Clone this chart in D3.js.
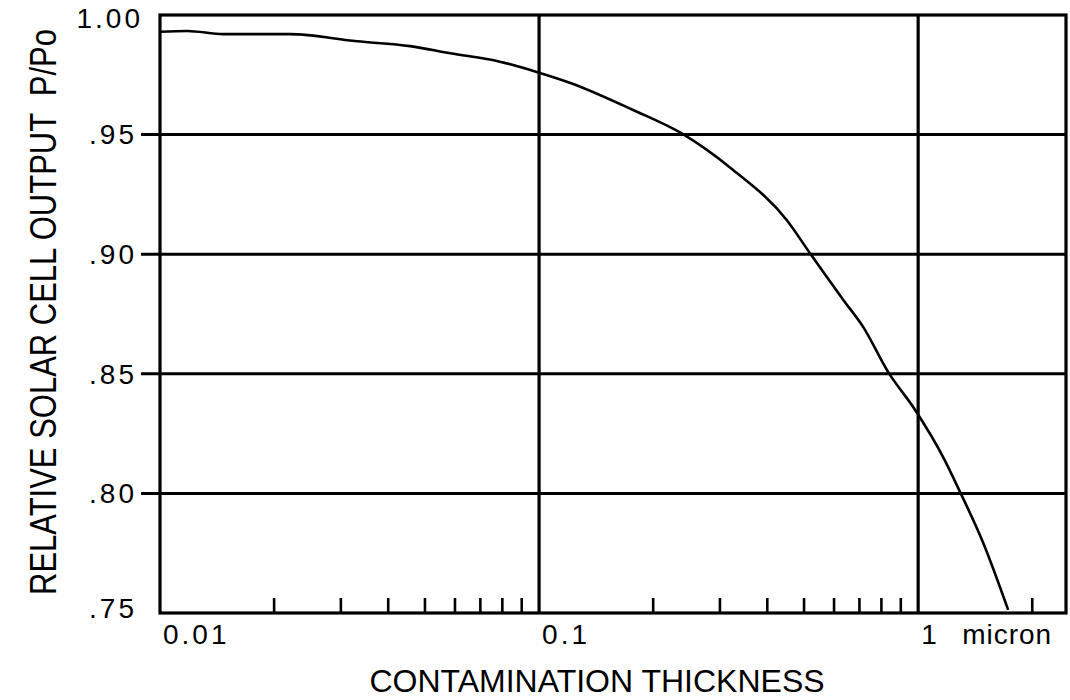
<!DOCTYPE html>
<html>
<head>
<meta charset="utf-8">
<script src="https://cdn.jsdelivr.net/npm/d3@7"></script>
<style>
  body { margin: 0; background: #fff; }
  text { font-family: "Liberation Sans", Arial, Helvetica, sans-serif; fill: #000; }
</style>
</head>
<body>
<div id="chart"></div>
<script>
// Curve: contamination thickness (micron) vs relative output
const thickness = [0.01, 0.0118, 0.0147, 0.022, 0.0331, 0.0457, 0.0583, 0.0788, 0.0995, 0.121,
  0.177, 0.236, 0.325, 0.45, 0.518, 0.634, 0.716, 0.833, 0.982, 1.164, 1.29, 1.485, 1.728];
const output = [0.993, 0.9933, 0.992, 0.992, 0.989, 0.987, 0.984, 0.9805, 0.976, 0.9716,
  0.9603, 0.9508, 0.9352, 0.9143, 0.9005, 0.881, 0.8696, 0.8508, 0.8349, 0.8152, 0.8006, 0.7793, 0.7513];

// Axis ticks and labels
const yTicks = [1.00, 0.95, 0.90, 0.85, 0.80, 0.75];
const yTickLabels = ["1.00", ".95", ".90", ".85", ".80", ".75"];
const yGrid = [0.95, 0.90, 0.85, 0.80];
const xGrid = [0.1, 1];
const xMinorTicks = [0.02, 0.03, 0.04, 0.05, 0.06, 0.07, 0.08, 0.09,
  0.2, 0.3, 0.4, 0.5, 0.6, 0.7, 0.8, 0.9, 2];
const xLabelValues = [0.01, 0.1, 1];
const xLabelTexts = ["0.01", "0.1", "1"];

const width = 1070, height = 700;
const plot = { left: 160, right: 1066, top: 15, bottom: 613 };

const svg = d3.select("#chart")
  .append("svg")
  .attr("width", width)
  .attr("height", height);

// Scales
const x = d3.scaleLog()
  .domain([0.01, 2.455])
  .range([plot.left, plot.right]);

const y = d3.scaleLinear()
  .domain([0.75, 1.00])
  .range([plot.bottom, plot.top]);

// Horizontal grid lines (run a bit past the left frame as ticks)
svg.selectAll(".hgrid")
  .data(yGrid)
  .enter()
  .append("line")
  .attr("class", "hgrid")
  .attr("x1", plot.left - 19)
  .attr("x2", plot.right)
  .attr("y1", d => y(d))
  .attr("y2", d => y(d))
  .attr("stroke", "#000")
  .attr("stroke-width", 3);

// Vertical grid lines at each decade
svg.selectAll(".vgrid")
  .data(xGrid)
  .enter()
  .append("line")
  .attr("class", "vgrid")
  .attr("x1", d => x(d))
  .attr("x2", d => x(d))
  .attr("y1", plot.top)
  .attr("y2", plot.bottom)
  .attr("stroke", "#000")
  .attr("stroke-width", 3.2);

// Minor ticks on the bottom axis, pointing up
svg.selectAll(".minor")
  .data(xMinorTicks)
  .enter()
  .append("line")
  .attr("class", "minor")
  .attr("x1", d => x(d))
  .attr("x2", d => x(d))
  .attr("y1", plot.bottom)
  .attr("y2", plot.bottom - 15)
  .attr("stroke", "#000")
  .attr("stroke-width", 2.6);

// Frame
svg.append("rect")
  .attr("x", plot.left)
  .attr("y", plot.top)
  .attr("width", plot.right - plot.left)
  .attr("height", plot.bottom - plot.top)
  .attr("fill", "none")
  .attr("stroke", "#000")
  .attr("stroke-width", 3.2);

// The curve
const points = thickness.map((t, i) => [t, output[i]]);
const line = d3.line()
  .x(d => x(d[0]))
  .y(d => y(d[1]))
  .curve(d3.curveMonotoneX);

svg.append("path")
  .datum(points)
  .attr("d", line)
  .attr("fill", "none")
  .attr("stroke", "#000")
  .attr("stroke-width", 2.6);

// Y tick labels
svg.selectAll(".ylabel")
  .data(yTicks)
  .enter()
  .append("text")
  .attr("class", "ylabel")
  .attr("x", (d, i) => i === 0 ? 143 : 137)
  .attr("y", (d, i) => y(d) + (i === 0 ? 3 : i === yTicks.length - 1 ? -5 : 0))
  .attr("dy", "0.35em")
  .style("text-anchor", "end")
  .style("font-size", "28px")
  .style("letter-spacing", "3px")
  .text((d, i) => yTickLabels[i]);

// X tick labels, set just right of their decade line
svg.selectAll(".xlabel")
  .data(xLabelValues)
  .enter()
  .append("text")
  .attr("class", "xlabel")
  .attr("x", d => x(d) + 3)
  .attr("y", 644)
  .style("font-size", "28px")
  .style("letter-spacing", "3px")
  .text((d, i) => xLabelTexts[i]);

svg.append("text")
  .attr("x", x(1) + 44)
  .attr("y", 644)
  .style("font-size", "28px")
  .style("letter-spacing", "1px")
  .text("micron");

// Axis titles
svg.append("text")
  .attr("x", 597)
  .attr("y", 692)
  .style("text-anchor", "middle")
  .style("font-size", "32px")
  .text("CONTAMINATION THICKNESS");

// Y title is tall and narrow in the original, so stretch glyph height
svg.append("text")
  .attr("transform", "translate(56,312) rotate(-90) scale(1,1.18)")
  .attr("text-anchor", "middle")
  .style("white-space", "pre")
  .style("font-size", "31px")
  .text("RELATIVE SOLAR CELL OUTPUT  P/Po");
</script>
</body>
</html>
